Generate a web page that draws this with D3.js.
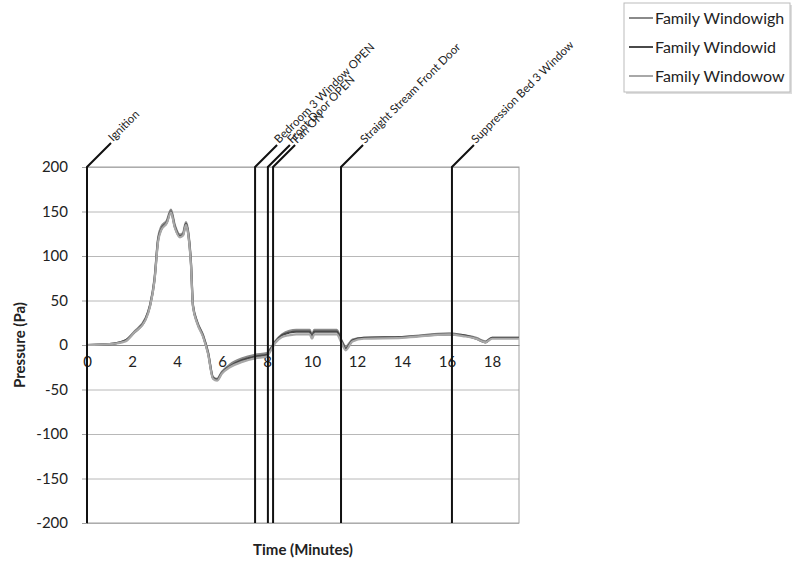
<!DOCTYPE html>
<html lang="en">
<head>
<meta charset="UTF-8">
<title>Pressure</title>
<script src="https://cdn.jsdelivr.net/npm/d3@7"></script>
<style>
  * { margin: 0; padding: 0; }
  body { background: #fff; overflow: hidden; }
  svg { display: block; }
  text { font-family: Lato, "Open Sans", sans-serif; }
</style>
</head>
<body>
<svg></svg>
<script>
  // data
  const times = [0, 1, 1.7, 2.1, 2.6, 2.8, 3.0, 3.16, 3.3, 3.55, 3.73, 3.9, 4.13, 4.27, 4.4, 4.5, 4.62, 4.71, 4.9, 5.16,
    5.38, 5.6, 5.78, 6.0, 6.35, 6.9, 7.47, 8.0, 8.13, 8.36, 8.67, 9.0, 9.3, 9.9, 10.0, 10.1, 11.1, 11.3, 11.5, 11.8,
    12.3, 14, 16.1, 16.7, 17.3, 17.7, 18.0, 19.2];
  const seriesNames = ['Family Windowigh', 'Family Windowid', 'Family Windowow'];
  const windowigh = [0, 1, 5, 15, 30, 45, 75, 120, 133, 140, 152, 135, 124, 126, 138, 127, 93, 45, 26, 11,
    -8, -36, -38, -30, -22, -15, -11, -9, -5, 4, 12, 16, 17, 17, 11, 17, 17, 6, -2, 6,
    8, 9, 13, 11, 8, 4, 8, 8];
  const windowid = [0, 1, 5, 14, 29, 44, 73, 118, 130, 138, 150, 133, 122, 124, 136, 125, 92, 44, 25, 10,
    -9, -37, -39, -31, -24, -17, -13, -11, -6, 3, 11, 14, 15, 15, 9, 15, 15, 5, -4, 5,
    8, 9, 12, 11, 7, 3, 8, 8];
  const windowow = [0, 1, 4, 14, 28, 43, 72, 116, 129, 137, 149, 132, 121, 123, 135, 124, 90, 43, 24, 9,
    -10, -38, -40, -32, -25, -19, -15, -13, -8, 2, 9, 11, 12, 12, 7, 12, 12, 3, -6, 4,
    7, 8, 12, 10, 7, 3, 7, 7];
  const seriesValues = [windowigh, windowid, windowow];
  const seriesColors = ['#8a8a8a', '#4a4a4a', '#a8a8a8'];

  const eventNames = ['Ignition', 'Bedroom  3 Window OPEN', 'Front Door OPEN', 'Fan ON', 'Straight Stream Front Door', 'Suppression Bed 3 Window'];
  const eventTimes = [0, 7.47, 8.04, 8.27, 11.29, 16.22];
  const eventRise = [24, 22, 22, 22, 22, 22];

  const yTicks = [-200, -150, -100, -50, 0, 50, 100, 150, 200];
  const xTicks = [0, 2, 4, 6, 8, 10, 12, 14, 16, 18];

  const width = 792, height = 564;
  const svg = d3.select('svg').attr('width', width).attr('height', height);
  const margin = { left: 87, top: 167, right: 273, bottom: 41 };
  const innerWidth = width - margin.left - margin.right;
  const innerHeight = height - margin.top - margin.bottom;

  const xScale = d3.scaleLinear().domain([0, 19.2]).range([0, innerWidth]);
  const yScale = d3.scaleLinear().domain([-200, 200]).range([innerHeight, 0]);

  const g = svg.append('g').attr('transform', `translate(${margin.left},${margin.top})`);

  // gridlines
  g.append('g')
    .call(d3.axisLeft(yScale).tickValues(yTicks).tickSize(-innerWidth).tickFormat(''))
    .call(a => a.select('.domain').remove())
    .call(a => a.selectAll('text').remove())
    .call(a => a.selectAll('line').attr('stroke', '#b8b8b8'));

  // plot border
  g.append('rect').attr('width', innerWidth).attr('height', innerHeight)
    .attr('fill', 'none').attr('stroke', '#a0a0a0');

  // y axis
  g.append('g')
    .call(d3.axisLeft(yScale).tickValues(yTicks).tickSize(5).tickPadding(14).tickFormat(d => String(d)))
    .call(a => a.select('.domain').attr('stroke', '#6a6a6a'))
    .call(a => a.selectAll('line').attr('stroke', '#a0a0a0'))
    .call(a => a.selectAll('text').attr('font-size', 15).attr('fill', '#222'));

  // x axis at zero
  g.append('g').attr('transform', `translate(0,${yScale(0)})`)
    .call(d3.axisBottom(xScale).tickValues(xTicks).tickSize(0).tickPadding(11).tickFormat(d => String(d)))
    .call(a => a.select('.domain').attr('stroke', '#8a8a8a'))
    .call(a => a.selectAll('text').attr('font-size', 15).attr('fill', '#222'));

  // series
  const line = d3.line().x((d, i) => xScale(times[i])).y(d => yScale(d)).curve(d3.curveMonotoneX);
  seriesValues.forEach((vals, k) => {
    g.append('path').datum(vals).attr('d', line)
      .attr('fill', 'none').attr('stroke', seriesColors[k]).attr('stroke-width', 2.2);
  });

  // event markers
  eventTimes.forEach((t, i) => {
    const x = xScale(t);
    const x2 = x + eventRise[i], y2 = -eventRise[i];
    g.append('path')
      .attr('d', `M${x},${innerHeight}L${x},0L${x2},${y2}`)
      .attr('fill', 'none').attr('stroke', '#111').attr('stroke-width', 2);
    g.append('text')
      .attr('transform', `translate(${x2 + 2},${y2 - 1}) rotate(-45)`)
      .attr('font-size', 11.5).attr('fill', '#222')
      .text(eventNames[i]);
  });

  // axis titles
  svg.append('text').attr('x', margin.left + innerWidth / 2).attr('y', 555)
    .attr('text-anchor', 'middle').attr('font-size', 15).attr('font-weight', 'bold').attr('fill', '#222')
    .text('Time (Minutes)');
  svg.append('text').attr('transform', `translate(25,${margin.top + innerHeight / 2}) rotate(-90)`)
    .attr('text-anchor', 'middle').attr('font-size', 15).attr('font-weight', 'bold').attr('fill', '#222')
    .text('Pressure (Pa)');

  // legend
  const legend = svg.append('g').attr('transform', 'translate(624,3)');
  legend.append('rect').attr('x', 2).attr('y', 2).attr('width', 166).attr('height', 89).attr('fill', '#ddd');
  legend.append('rect').attr('width', 166).attr('height', 89).attr('fill', '#fff').attr('stroke', '#bbb');
  seriesNames.forEach((name, i) => {
    const yy = 15 + i * 29;
    legend.append('line').attr('x1', 5).attr('x2', 29).attr('y1', yy).attr('y2', yy)
      .attr('stroke', seriesColors[i]).attr('stroke-width', 2);
    legend.append('text').attr('x', 31).attr('y', yy + 5.5).attr('font-size', 16).attr('fill', '#222').text(name);
  });
</script>
</body>
</html>
